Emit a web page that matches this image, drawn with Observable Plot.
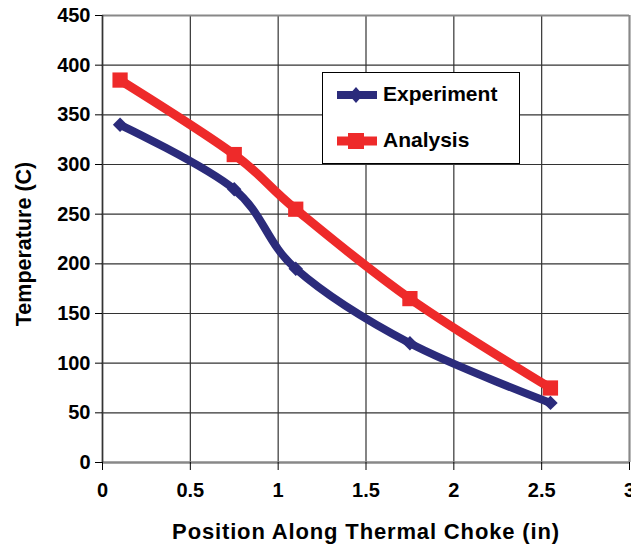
<!DOCTYPE html>
<html><head><meta charset="utf-8">
<script src="https://cdn.jsdelivr.net/npm/d3@7"></script>
<script src="https://cdn.jsdelivr.net/npm/@observablehq/plot@0.6"></script>
<style>
body{margin:0;background:#fff;}
#wrap{position:relative;width:631px;height:545px;font-family:"Liberation Sans",Arial,sans-serif;}
#legend{position:absolute;left:322px;top:72px;width:198px;height:92px;border:1.5px solid #000;background:#fff;box-sizing:border-box;}
.item{position:absolute;left:0;height:30px;width:190px;}
.item svg{position:absolute;left:12px;top:0;}
.item span{position:absolute;left:60px;top:1px;font-size:21px;font-weight:bold;color:#000;line-height:26px;}
</style></head><body><div id="wrap"></div>
<script>
const positions = [0.1, 0.75, 1.1, 1.75, 2.55];
const experiment = [340, 275, 195, 120, 60];
const analysis = [385, 310, 255, 165, 75];
const seriesNames = ["Experiment", "Analysis"];
const seriesColors = ["#2b2b7b", "#ee2a2a"];
const seriesSymbols = ["diamond2", "square"];
const xTicks = [0, 0.5, 1, 1.5, 2, 2.5, 3];
const yTicks = [0, 50, 100, 150, 200, 250, 300, 350, 400, 450];
const xLabel = "Position Along Thermal Choke (in)";
const yLabel = "Temperature (C)";

const data = [];
positions.forEach((x, i) => {
  data.push({series: seriesNames[0], x, y: experiment[i]});
  data.push({series: seriesNames[1], x, y: analysis[i]});
});
const exp = data.filter(d => d.series === seriesNames[0]);
const ana = data.filter(d => d.series === seriesNames[1]);

const chart = Plot.plot({
  width: 631, height: 545,
  marginLeft: 102, marginRight: 2, marginTop: 15, marginBottom: 83,
  style: {fontFamily: '"Liberation Sans", Arial, sans-serif', fontSize: "20px", fontWeight: "bold", color: "#000", background: "#fff", overflow: "visible"},
  x: {domain: [0, 3]},
  y: {domain: [0, 450]},
  marks: [
    Plot.gridX(xTicks, {stroke: "#333", strokeOpacity: 1, strokeWidth: 1.2}),
    Plot.gridY(yTicks, {stroke: "#333", strokeOpacity: 1, strokeWidth: 1.2}),
    Plot.ruleX([3], {stroke: "#888", strokeWidth: 2}),
    Plot.ruleY([450], {stroke: "#888", strokeWidth: 2}),
    Plot.ruleY([0], {stroke: "#888", strokeWidth: 2.5}),
    Plot.ruleX([0], {stroke: "#333", strokeWidth: 1.6}),
    Plot.axisY(yTicks, {tickSize: 7, tickPadding: 5, tickFormat: d => String(d), label: null, stroke: "#000", fontSize: 20}),
    Plot.axisX(xTicks, {tickSize: 8, tickPadding: 12, tickFormat: d => String(d), label: null, stroke: "#000", fontSize: 20}),
    Plot.line(exp, {x: "x", y: "y", stroke: seriesColors[0], strokeWidth: 8, curve: "cardinal"}),
    Plot.line(ana, {x: "x", y: "y", stroke: seriesColors[1], strokeWidth: 9, curve: "cardinal"}),
    Plot.dot(exp, {x: "x", y: "y", symbol: seriesSymbols[0], r: 6.5, fill: seriesColors[0], stroke: "none"}),
    Plot.dot(ana, {x: "x", y: "y", symbol: seriesSymbols[1], r: 8.6, fill: seriesColors[1], stroke: "none"}),
    Plot.text([xLabel], {text: d => d, frameAnchor: "bottom", lineAnchor: "middle", textAnchor: "middle", dy: 69, fontSize: 22, fontWeight: "bold", fill: "#000"}),
    Plot.text([yLabel], {text: d => d, frameAnchor: "left", lineAnchor: "middle", textAnchor: "middle", rotate: -90, dx: -78, dy: 5, fontSize: 21.5, fontWeight: "bold", fill: "#000"})
  ]
});
chart.querySelectorAll("text").forEach(t => {
  if (t.textContent === xLabel) t.setAttribute("letter-spacing", "0.85");
});
const wrap = document.getElementById("wrap");
wrap.appendChild(chart);

const legend = document.createElement("div");
legend.id = "legend";
seriesNames.forEach((name, i) => {
  const item = document.createElement("div");
  item.className = "item";
  item.style.top = (i === 0 ? 7 : 53) + "px";
  const marker = i === 0
    ? `<path d="M21,7 L28,15 L21,23 L14,15 Z" fill="${seriesColors[i]}"/>`
    : `<rect x="13" y="7" width="16" height="16" fill="${seriesColors[i]}"/>`;
  item.innerHTML = `<svg width="44" height="30"><line x1="2" x2="42" y1="15" y2="15" stroke="${seriesColors[i]}" stroke-width="${i === 0 ? 8 : 9}"/>${marker}</svg><span>${name}</span>`;
  legend.appendChild(item);
});
wrap.appendChild(legend);
</script>
</body></html>
